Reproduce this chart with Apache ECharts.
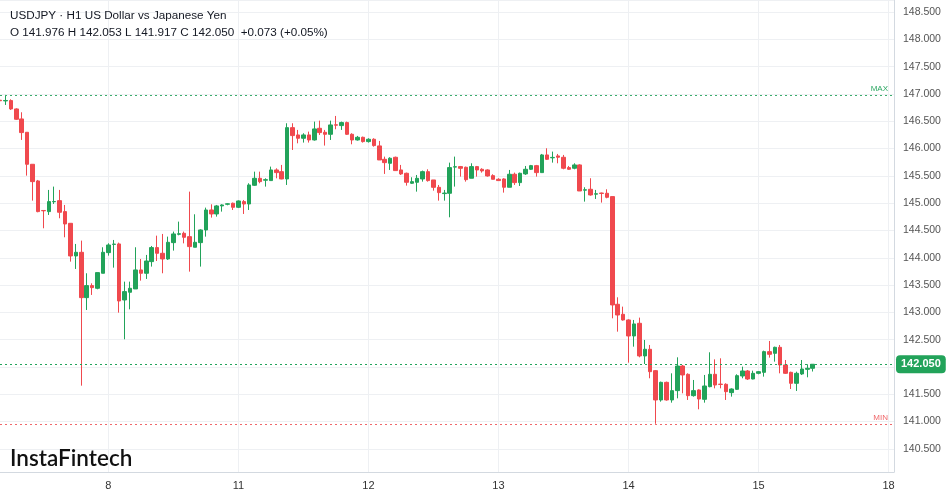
<!DOCTYPE html>
<html><head><meta charset="utf-8">
<script src="https://cdn.jsdelivr.net/npm/echarts@6/dist/echarts.min.js"></script>
<style>html,body{margin:0;padding:0;background:#fff}#c{width:949px;height:494px}</style>
</head><body><div id="c"></div>
<script>
// ---------- data ----------
const headerTitle = 'USDJPY · H1 US Dollar vs Japanese Yen';
const brand = 'InstaFintech';
const days = ['7', '8', '11', '12', '13', '14', '15', '18'];
const slotsPerDay = [20, 24, 24, 24, 24, 24, 24, 2];
const firstHour = 4;
const change = 0.073;
const changePct = 0.05;
const yMin = 140.077;
const yMax = 148.72;

const opens = [146.885,146.872,146.878,146.725,146.542,146.298,145.712,145.407,144.866,144.845,
145.025,145.046,144.845,144.631,144.033,144.100,143.270,143.490,143.441,143.716,
144.094,144.245,144.253,143.227,143.368,143.429,143.777,143.716,143.929,144.186,
144.082,143.978,144.277,144.430,144.448,144.387,144.192,144.277,144.509,144.875,
144.802,144.949,144.980,144.998,144.924,145.028,144.985,145.327,145.455,145.420,
145.413,145.608,145.577,145.443,146.383,146.249,146.188,146.249,146.157,146.371,
146.298,146.261,146.435,146.420,146.475,146.261,146.157,146.206,146.127,146.170,
146.048,145.803,145.730,145.840,145.608,145.547,145.364,145.382,145.443,145.577,
145.425,145.290,145.175,145.181,145.660,145.669,145.657,145.456,145.669,145.620,
145.608,145.504,145.437,145.443,145.291,145.529,145.376,145.535,145.620,145.687,
145.559,145.883,145.830,145.865,145.840,145.651,145.639,145.700,145.238,145.254,
145.165,145.185,145.181,145.120,143.148,142.965,142.861,142.568,142.800,142.202,
142.324,141.933,141.396,141.719,141.396,141.567,142.018,141.866,141.475,141.579,
141.408,141.640,141.866,141.686,141.683,141.530,141.591,141.835,141.927,141.780,
141.884,141.902,142.281,142.250,142.360,142.037,141.902,141.701,141.872,141.957,
141.976];
const closes = [146.875,146.880,146.725,146.536,146.292,145.712,145.394,144.845,144.860,145.028,
145.030,144.833,144.619,144.033,144.100,143.270,143.490,143.453,143.728,144.100,
144.234,144.250,143.209,143.380,143.441,143.777,143.716,143.941,144.186,144.082,
143.978,144.283,144.436,144.440,144.375,144.204,144.283,144.509,144.875,144.802,
144.949,144.967,144.988,144.924,145.040,144.985,145.333,145.455,145.394,145.430,
145.608,145.559,145.443,146.383,146.237,146.188,146.249,146.157,146.359,146.292,
146.261,146.432,146.428,146.475,146.261,146.157,146.206,146.127,146.170,146.054,
145.791,145.742,145.822,145.596,145.535,145.382,145.394,145.455,145.577,145.413,
145.290,145.193,145.185,145.651,145.667,145.638,145.430,145.669,145.608,145.590,
145.498,145.437,145.413,145.291,145.529,145.376,145.547,145.620,145.687,145.559,
145.883,145.803,145.838,145.840,145.639,145.620,145.700,145.223,145.245,145.150,
145.172,145.178,145.107,143.136,142.952,142.861,142.568,142.788,142.202,142.324,
141.914,141.396,141.719,141.396,141.567,142.018,141.854,141.475,141.567,141.414,
141.652,141.866,141.670,141.680,141.548,141.597,141.841,141.927,141.780,141.884,
141.914,142.281,142.232,142.360,142.037,141.884,141.701,141.884,141.963,141.976,
142.050];
const lows = [146.676,146.798,146.707,146.524,146.158,145.504,145.046,144.833,144.540,144.784,
144.985,144.723,144.375,143.929,143.795,141.658,143.044,143.319,143.423,143.716,
144.039,143.819,142.995,142.507,143.056,143.429,143.581,143.612,143.838,143.941,
143.716,143.960,144.131,144.411,144.264,143.746,144.192,143.838,144.387,144.735,
144.753,144.845,144.961,144.875,144.910,144.802,144.875,145.315,145.364,145.303,
145.413,145.455,145.437,145.333,145.974,146.096,146.109,146.109,146.145,146.249,
146.054,146.157,146.353,146.341,146.249,146.078,146.145,146.109,146.109,146.035,
145.791,145.535,145.608,145.596,145.516,145.321,145.352,145.211,145.394,145.394,
145.229,145.046,145.046,144.741,145.303,145.486,145.394,145.456,145.486,145.559,
145.486,145.437,145.407,145.193,145.291,145.333,145.315,145.517,145.608,145.486,
145.559,145.791,145.742,145.730,145.620,145.608,145.620,145.223,145.028,145.138,
145.077,145.010,145.089,142.891,142.647,142.849,142.079,142.372,142.177,142.055,
141.793,140.960,141.365,141.383,141.347,141.426,141.518,141.396,141.457,141.225,
141.347,141.628,141.609,141.609,141.396,141.457,141.579,141.793,141.762,141.774,
141.866,141.823,142.171,142.098,141.884,141.872,141.597,141.561,141.854,141.811,
141.917];
const highs = [146.921,146.982,146.902,146.737,146.664,146.298,145.712,145.425,144.870,145.242,
145.303,145.242,144.967,144.631,144.253,144.314,143.716,143.532,143.728,144.192,
144.265,144.326,144.277,143.563,143.563,144.192,143.978,144.052,144.216,144.405,
144.436,144.387,144.479,144.662,144.479,145.211,144.796,144.521,144.918,144.979,
144.967,144.979,144.998,145.010,145.050,145.058,145.364,145.577,145.577,145.455,
145.669,145.638,145.700,146.463,146.463,146.341,146.280,146.310,146.493,146.511,
146.341,146.511,146.597,146.493,146.493,146.280,146.231,146.218,146.188,146.188,
146.139,145.852,145.840,145.852,145.700,145.559,145.474,145.516,145.596,145.620,
145.425,145.333,145.242,145.742,145.852,145.681,145.669,145.730,145.681,145.639,
145.620,145.529,145.456,145.456,145.608,145.559,145.559,145.681,145.700,145.700,
145.901,146.005,145.944,145.901,145.883,145.681,145.730,145.712,145.291,145.456,
145.242,145.193,145.254,145.120,143.276,143.105,142.873,142.861,142.904,142.495,
142.403,141.945,141.732,141.732,141.884,142.177,142.037,141.884,141.762,141.591,
141.854,142.269,142.140,142.159,141.701,141.609,141.866,142.006,141.945,141.933,
141.927,142.299,142.476,142.372,142.403,142.128,141.914,141.914,142.128,142.049,
142.053];

// ---------- build ----------
const categories = [];
days.forEach((d, i) => {
  const start = i === 0 ? firstHour : 0;
  for (let h = start; h < start + slotsPerDay[i]; h++) {
    categories.push(d + ' ' + String(h).padStart(2, '0') + ':00');
  }
});
const candles = opens.map((o, i) => [o, closes[i], lows[i], highs[i]]);
const last = opens.length - 1;
const subLine = 'O ' + opens[last].toFixed(3) + ' H ' + highs[last].toFixed(3) +
  ' L ' + lows[last].toFixed(3) + ' C ' + closes[last].toFixed(3) +
  '  +' + change.toFixed(3) + ' (+' + changePct.toFixed(2) + '%)';

const UP = '#22a35a', DOWN = '#f0494e';
const isDayStart = (idx, val) => String(val).endsWith(' 00:00');

const chart = echarts.init(document.getElementById('c'), null, {renderer: 'canvas'});
chart.setOption({
  animation: false,
  backgroundColor: '#ffffff',
  title: [
    {
      text: headerTitle, subtext: subLine, left: 10, top: 10, itemGap: 5, padding: 0,
      textStyle: {fontFamily: 'Liberation Sans, Arial', fontSize: 11.7, fontWeight: 'normal', color: '#131722'},
      subtextStyle: {fontFamily: 'Liberation Sans, Arial', fontSize: 11.7, color: '#131722'}
    },
    {
      text: brand, left: 10, top: 447, padding: 0,
      textStyle: {fontFamily: 'Lato', fontSize: 22.5, fontWeight: 600, color: '#111111'}
    }
  ],
  grid: {left: 0, right: 55, top: 0, bottom: 22, containLabel: false},
  xAxis: {
    type: 'category', data: categories, boundaryGap: false,
    axisLine: {show: true, lineStyle: {color: '#d3d9e0'}},
    axisTick: {show: false},
    axisLabel: {interval: isDayStart, formatter: v => v.split(' ')[0], color: '#333', fontSize: 11,
      fontFamily: 'Liberation Sans, Arial', margin: 8},
    splitLine: {show: true, interval: isDayStart, lineStyle: {color: '#eef0f3', width: 1}}
  },
  yAxis: {
    type: 'value', position: 'right', min: yMin, max: yMax, scale: true,
    splitNumber: 17, minInterval: 0.5, maxInterval: 0.5,
    axisLine: {show: true, lineStyle: {color: '#d3d9e0'}},
    axisTick: {show: false},
    axisLabel: {formatter: v => v.toFixed(3), color: '#555', fontSize: 10.5,
      fontFamily: 'Liberation Sans, Arial', margin: 9, showMinLabel: false, showMaxLabel: false},
    splitLine: {show: true, lineStyle: {color: '#eef0f3', width: 1}}
  },
  series: [{
    type: 'candlestick',
    data: candles,
    barWidth: 4,
    itemStyle: {color: UP, color0: DOWN, borderColor: UP, borderColor0: DOWN, borderWidth: 1},
    markLine: {
      symbol: 'none', silent: true, animation: false,
      data: [
        {type: 'max', valueDim: 'highest',
          lineStyle: {color: '#3aae6c', type: [2, 3], width: 1},
          label: {show: true, position: 'insideEndTop', formatter: 'MAX', color: '#2ea864', fontSize: 8, distance: [6, 2]}},
        {type: 'min', valueDim: 'lowest',
          lineStyle: {color: '#f0676a', type: [2, 3], width: 1},
          label: {show: true, position: 'insideEndTop', formatter: 'MIN', color: '#f0676a', fontSize: 8, distance: [6, 2]}},
        {yAxis: closes[last],
          lineStyle: {color: '#22a35a', type: [2, 3], width: 1},
          label: {show: true, position: 'end', distance: 2, formatter: p => Number(p.value).toFixed(3),
            backgroundColor: '#22a35a', borderRadius: 4, padding: [4, 5, 3, 5],
            color: '#ffffff', fontSize: 11, fontWeight: 'bold', fontFamily: 'Liberation Sans, Arial'}}
      ]
    }
  }]
});
</script>
</body></html>
